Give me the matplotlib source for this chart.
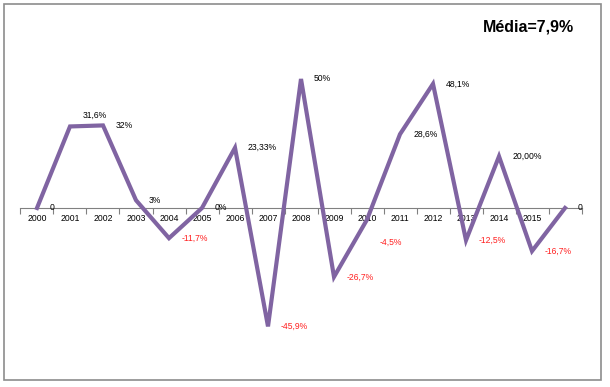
import matplotlib.pyplot as plt
from matplotlib.patches import Rectangle

# Data
years = ["2000", "2001", "2002", "2003", "2004", "2005", "2006", "2007",
         "2008", "2009", "2010", "2011", "2012", "2013", "2014", "2015", ""]
values = [0, 31.6, 32, 3, -11.7, 0, 23.33, -45.9,
          50, -26.7, -4.5, 28.6, 48.1, -12.5, 20.0, -16.7, 0]
value_labels = ["0", "31,6%", "32%", "3%", "-11,7%", "0%", "23,33%", "-45,9%",
                "50%", "-26,7%", "-4,5%", "28,6%", "48,1%", "-12,5%", "20,00%", "-16,7%", "0"]
title = "Média=7,9%"

# vertical nudges (points) for a couple of labels
label_dy = {1: 8, 10: -16}

plt.rcParams['font.family'] = ['Liberation Sans', 'DejaVu Sans']

fig = plt.figure(figsize=(6.1, 3.87), dpi=100)
ax = fig.add_axes([0.0336, 0.0959, 0.9197, 0.7667])
ax.set_axisbelow(True)

x = list(range(len(values)))
ax.plot(x, values, color="#8064A2", linewidth=3, solid_joinstyle="miter", zorder=3)

for i, (v, lab) in enumerate(zip(values, value_labels)):
    col = "#FF2020" if v < 0 else "black"
    ax.annotate(lab, (i, v), xytext=(9.4, label_dy.get(i, 0)), textcoords="offset points",
                ha="left", va="center", fontsize=6.2, color=col, zorder=4)

ax.set_xlim(-0.5, len(values) - 0.5)
ax.set_ylim(-55, 60)

for s in ["top", "left", "right"]:
    ax.spines[s].set_visible(False)
ax.spines["bottom"].set_position(("data", 0))
ax.spines["bottom"].set_color("#808080")
ax.yaxis.set_visible(False)

ax.set_xticks([i - 0.5 for i in range(len(values) + 1)])
ax.set_xticklabels([])
ax.tick_params(axis="x", which="major", length=4, color="#808080", direction="out")
ax.set_xticks(x, minor=True)
ax.set_xticklabels(years, minor=True, fontsize=6.2)
ax.tick_params(axis="x", which="minor", length=0, pad=4)

fig.text(0.866, 0.93, title, ha="center", va="center", fontsize=11.5, fontweight="bold")

fig.patches.append(Rectangle((4 / 610, 7 / 387), 597 / 610, 376 / 387, transform=fig.transFigure,
                             fill=False, edgecolor="#8c8c8c", linewidth=1.2))

fig.savefig("out.png", dpi=100)
